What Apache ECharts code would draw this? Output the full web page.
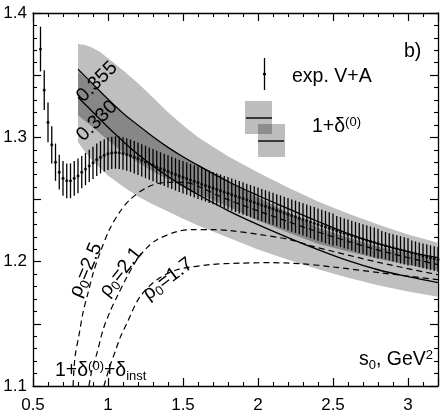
<!DOCTYPE html>
<html><head><meta charset="utf-8">
<script src="https://cdn.jsdelivr.net/npm/echarts@6/dist/echarts.min.js"></script>
<style>html,body{margin:0;padding:0;background:#fff}#c{width:442px;height:414px}</style>
</head><body><div id="c"></div>
<script>
// experimental V+A points
const expS = [0.55,0.575,0.6,0.625,0.65,0.675,0.7,0.725,0.75,0.775,0.8,0.825,0.85,0.875,0.9,0.925,0.95,0.975,
1.0,1.025,1.05,1.075,1.1,1.125,1.15,1.175,1.2,1.225,1.25,1.275,1.3,1.325,1.35,1.375,1.4,1.425,1.45,1.475,
1.5,1.525,1.55,1.575,1.6,1.625,1.65,1.675,1.7,1.725,1.75,1.775,1.8,1.825,1.85,1.875,1.9,1.925,1.95,1.975,
2.0,2.025,2.05,2.075,2.1,2.125,2.15,2.175,2.2,2.225,2.25,2.275,2.3,2.325,2.35,2.375,2.4,2.425,2.45,2.475,
2.5,2.525,2.55,2.575,2.6,2.625,2.65,2.675,2.7,2.725,2.75,2.775,2.8,2.825,2.85,2.875,2.9,2.925,2.95,2.975,
3.0,3.025,3.05,3.075,3.1,3.125,3.15,3.175,3.2];
const expV = [1.371,1.338,1.312,1.294,1.280,1.272,1.267,1.265,1.265,1.267,1.269,1.272,1.2745,1.277,1.2795,1.282,1.284,1.2855,
1.2868,1.2875,1.2878,1.2876,1.287,1.2862,1.2852,1.284,1.2828,1.2815,1.2802,1.2789,1.2776,1.2763,1.275,1.2738,1.2726,1.2714,1.2702,1.269,
1.2679,1.2668,1.2657,1.2646,1.2635,1.2624,1.2613,1.2602,1.2592,1.2581,1.2571,1.256,1.255,1.2539,1.2529,1.2518,1.2508,1.2497,1.2487,1.2476,
1.2466,1.2455,1.2445,1.2434,1.2424,1.2413,1.2403,1.2392,1.2382,1.2371,1.2361,1.235,1.234,1.233,1.2319,1.2309,1.2298,1.2288,1.2278,1.2268,
1.2258,1.2248,1.2238,1.2228,1.2219,1.2209,1.22,1.219,1.2181,1.2172,1.2163,1.2154,1.2145,1.2136,1.2128,1.2119,1.2111,1.2103,1.2095,1.2087,
1.2079,1.2071,1.2063,1.2055,1.2047,1.204,1.2032,1.2025,1.2018];
const expE = [0.018,0.016,0.016,0.015,0.015,0.014,0.014,0.014,0.014,0.014,0.014,0.013,0.013,0.013,0.013,0.013,0.013,0.013,
0.013,0.013,0.013,0.013,0.013,0.013,0.013,0.013,0.013,0.013,0.013,0.013,0.013,0.013,0.013,0.013,0.013,0.013,0.013,0.013,
0.013,0.013,0.013,0.013,0.013,0.013,0.013,0.013,0.013,0.013,0.013,0.013,0.013,0.013,0.013,0.013,0.013,0.013,0.013,0.013,
0.013,0.013,0.013,0.013,0.013,0.013,0.013,0.013,0.013,0.013,0.013,0.013,0.013,0.013,0.013,0.013,0.013,0.013,0.013,0.013,
0.013,0.012,0.012,0.012,0.012,0.012,0.012,0.012,0.012,0.012,0.012,0.012,0.012,0.011,0.011,0.011,0.011,0.011,0.011,0.011,
0.011,0.010,0.010,0.010,0.010,0.010,0.010,0.010,0.010];

// light band (outer)
const bandX    = [0.8,0.85,0.9,0.95,1.0,1.1,1.2,1.3,1.4,1.5,1.6,1.8,2.0,2.2,2.4,2.6,2.8,3.0,3.2];
const lightTop = [1.375,1.3742,1.3718,1.3685,1.3637,1.354,1.3435,1.332,1.3202,1.3097,1.300,1.2847,1.2718,1.2597,1.2484,1.2387,1.2298,1.2218,1.2153];
const lightBot = [1.296,1.2879,1.2806,1.275,1.2694,1.2605,1.2524,1.246,1.2403,1.2345,1.229,1.2194,1.2097,1.2016,1.194,1.187,1.181,1.176,1.1718];

// dark band and alpha_s lines
const curveX  = [0.8,0.9,1.0,1.1,1.2,1.3,1.4,1.5,1.6,1.8,2.0,2.2,2.4,2.6,2.8,3.0,3.2];
const darkTop = [1.3532,1.3419,1.3298,1.3185,1.3089,1.3,1.2919,1.2848,1.2782,1.2653,1.2516,1.2395,1.2274,1.2194,1.2121,1.2065,1.2016];
const darkBot = [1.3177,1.3081,1.2976,1.2879,1.2798,1.2726,1.2661,1.2602,1.2548,1.2444,1.2331,1.2234,1.2145,1.2081,1.2024,1.1976,1.1927];
const line355 = [1.3548,1.3427,1.3306,1.3194,1.3097,1.3004,1.2919,1.2844,1.2774,1.2645,1.2532,1.2427,1.2323,1.2226,1.2145,1.2081,1.2032];
const line330 = [1.3323,1.3202,1.3081,1.2968,1.2863,1.277,1.2685,1.261,1.254,1.2411,1.2298,1.2194,1.2097,1.2008,1.1935,1.1879,1.1831];

// 1+delta(0)+delta_inst curves
const rho25X = [0.767,0.78,0.807,0.833,0.867,0.9,0.947,1.013,1.08,1.147,1.26,1.38,1.513,1.647,1.747,2.013,2.393,2.813,3.2];
const rho25Y = [1.1,1.1234,1.1411,1.1589,1.175,1.1903,1.2073,1.2266,1.2403,1.25,1.2597,1.2637,1.2637,1.2581,1.2524,1.2403,1.2242,1.2089,1.1976];
const rho21X = [0.873,0.893,0.927,0.967,1.013,1.06,1.127,1.193,1.26,1.327,1.46,1.567,1.68,1.813,2.013,2.213,2.347,2.813,3.2];
const rho21Y = [1.1,1.1129,1.1266,1.1452,1.1597,1.1718,1.1879,1.2016,1.2113,1.2177,1.2242,1.2258,1.2258,1.225,1.2218,1.2177,1.2129,1.1992,1.1895];
const rho17X = [0.973,1.013,1.047,1.08,1.127,1.213,1.327,1.46,1.68,1.88,2.08,2.28,2.48,2.813,3.2];
const rho17Y = [1.1,1.1161,1.1274,1.1387,1.1508,1.1718,1.1855,1.1935,1.1976,1.1988,1.1992,1.1984,1.196,1.1911,1.1855];

const xTicks = {min:0.5, max:3.2, interval:0.5};
const yTicks = {min:1.1, max:1.4, interval:0.05};

const F = '"Liberation Sans", Arial, Helvetica, sans-serif';
const zip = (xs, ys) => xs.map((x,i)=>[x, ys[i]]);

const chart = echarts.init(document.getElementById('c'), null, {renderer:'canvas'});
const axisCommon = {
  axisLine:{show:true, onZero:false, lineStyle:{color:'#000', width:1.3}},
  axisTick:{show:true, inside:true, length:8, lineStyle:{color:'#000', width:1.2}},
  minorTick:{show:true, splitNumber:5, length:4, lineStyle:{color:'#000', width:1.1}},
  splitLine:{show:false}
};
const rich = {
  m:{fontSize:19.5, fontFamily:F, lineHeight:23, fill:'#000', color:'#000'},
  s:{fontSize:13, fontFamily:F, lineHeight:12, verticalAlign:'bottom', fill:'#000', color:'#000'},
  p:{fontSize:13, fontFamily:F, lineHeight:12, verticalAlign:'top', fill:'#000', color:'#000'}
};
function txt(text, x, y, align, rotDeg) {
  return {type:'text', x:x, y:y, rotation:(rotDeg||0)*Math.PI/180, silent:true, z:100,
    style:{text:text, rich:rich, align:align||'center', verticalAlign:'middle', fill:'#000', font:'19.5px '+F}};
}
// band polygon drawn through the axis scales
function band(name, xs, top, bot, color, z) {
  return {type:'custom', name:name, z:z, silent:true, clip:true,
    data: zip(xs, top), encode:{x:0, y:1},
    renderItem:function(params, api){
      if (params.dataIndex !== 0) return null;
      const pts = [];
      for (let i = 0; i < xs.length; i++) pts.push(api.coord([xs[i], top[i]]));
      for (let i = xs.length - 1; i >= 0; i--) pts.push(api.coord([xs[i], bot[i]]));
      return {type:'polygon', shape:{points:pts}, style:{fill:color, stroke:null}};
    }};
}
const lineBase = {type:'line', showSymbol:false, symbol:'none', silent:true, animation:false};

chart.setOption({
  animation:false,
  grid:{left:33, right:4, top:13, bottom:28, containLabel:false},
  xAxis:[
    Object.assign({type:'value', position:'bottom', min:xTicks.min, max:xTicks.max, interval:xTicks.interval,
      axisLabel:{show:true, margin:11, color:'#000', fontSize:17, fontFamily:F, showMaxLabel:false}}, axisCommon),
    Object.assign({type:'value', position:'top', min:xTicks.min, max:xTicks.max, interval:xTicks.interval,
      axisLabel:{show:false}}, axisCommon)
  ],
  yAxis:[
    Object.assign({type:'value', position:'left', min:yTicks.min, max:yTicks.max, interval:yTicks.interval,
      axisLabel:{show:true, margin:6, color:'#000', fontSize:17, fontFamily:F,
        formatter:v => (Math.abs(v*10 - Math.round(v*10)) < 1e-6) ? v.toFixed(1) : ''}}, axisCommon),
    Object.assign({type:'value', position:'right', min:yTicks.min, max:yTicks.max, interval:yTicks.interval,
      axisLabel:{show:false}}, axisCommon)
  ],
  series:[
    band('light', bandX, lightTop, lightBot, '#bfbfbf', 1),
    band('dark', curveX, darkTop, darkBot, '#878787', 2),
    Object.assign({}, lineBase, {name:'rho25', smooth:0.3, z:3, data:zip(rho25X, rho25Y), lineStyle:{color:'#000', width:1.2, type:[6,4]}}),
    Object.assign({}, lineBase, {name:'rho21', smooth:0.3, z:3, data:zip(rho21X, rho21Y), lineStyle:{color:'#000', width:1.2, type:[6,4]}}),
    Object.assign({}, lineBase, {name:'rho17', smooth:0.3, z:3, data:zip(rho17X, rho17Y), lineStyle:{color:'#000', width:1.2, type:[6,4]}}),
    Object.assign({}, lineBase, {name:'a355', smooth:0.4, z:4, data:zip(curveX, line355), lineStyle:{color:'#000', width:1.3}}),
    Object.assign({}, lineBase, {name:'a330', smooth:0.4, z:4, data:zip(curveX, line330), lineStyle:{color:'#000', width:1.3}}),
    {type:'custom', name:'err', z:5, silent:true, clip:true,
      data: expS.map((s,i)=>[s, expV[i], expE[i]]),
      encode:{x:0, y:1},
      renderItem:function(params, api){
        const x = api.value(0), y = api.value(1), e = api.value(2);
        const p1 = api.coord([x, y+e]), p2 = api.coord([x, y-e]);
        return {type:'line', shape:{x1:p1[0], y1:p1[1], x2:p2[0], y2:p2[1]}, style:{stroke:'#000', lineWidth:1.3}};
      }},
    {type:'scatter', name:'exp', z:6, silent:true, symbol:'circle', symbolSize:3.2, itemStyle:{color:'#000'},
      data: zip(expS, expV)}
  ],
  graphic:[
    {type:'line', silent:true, z:100, shape:{x1:264.5, y1:58, x2:264.5, y2:90}, style:{stroke:'#000', lineWidth:1.3}},
    {type:'circle', silent:true, z:100, shape:{cx:264.5, cy:74, r:1.6}, style:{fill:'#000'}},
    {type:'rect', silent:true, z:99, shape:{x:245, y:101, width:27, height:33}, style:{fill:'rgba(0,0,0,0.26)'}},
    {type:'rect', silent:true, z:99, shape:{x:258, y:124, width:27, height:33}, style:{fill:'rgba(0,0,0,0.26)'}},
    {type:'line', silent:true, z:100, shape:{x1:246, y1:118, x2:272, y2:118}, style:{stroke:'#000', lineWidth:1.4}},
    {type:'line', silent:true, z:100, shape:{x1:258, y1:141, x2:284, y2:141}, style:{stroke:'#000', lineWidth:1.4}},
    txt('{m|exp. V+A}', 292, 77, 'left'),
    txt('{m|1+δ}{p|(0)}', 312, 127, 'left'),
    txt('{m|b)}', 404, 52, 'left'),
    txt('{m|0.355}', 97, 82, 'center', 45),
    txt('{m|0.330}', 97, 121, 'center', 45),
    txt('{m|ρ}{s|0}{m|=2.5}', 86, 270, 'center', 67),
    txt('{m|ρ}{s|0}{m|=2.1}', 121, 272, 'center', 52),
    txt('{m|ρ}{s|0}{m|=1.7}', 168, 279, 'center', 37),
    txt('{m|1+δ}{p|(0)}{m|+δ}{s|inst}', 55, 371, 'left'),
    txt('{m|s}{s|0}{m|, GeV}{p|2}', 433, 360, 'right')
  ]
});
</script></body></html>
